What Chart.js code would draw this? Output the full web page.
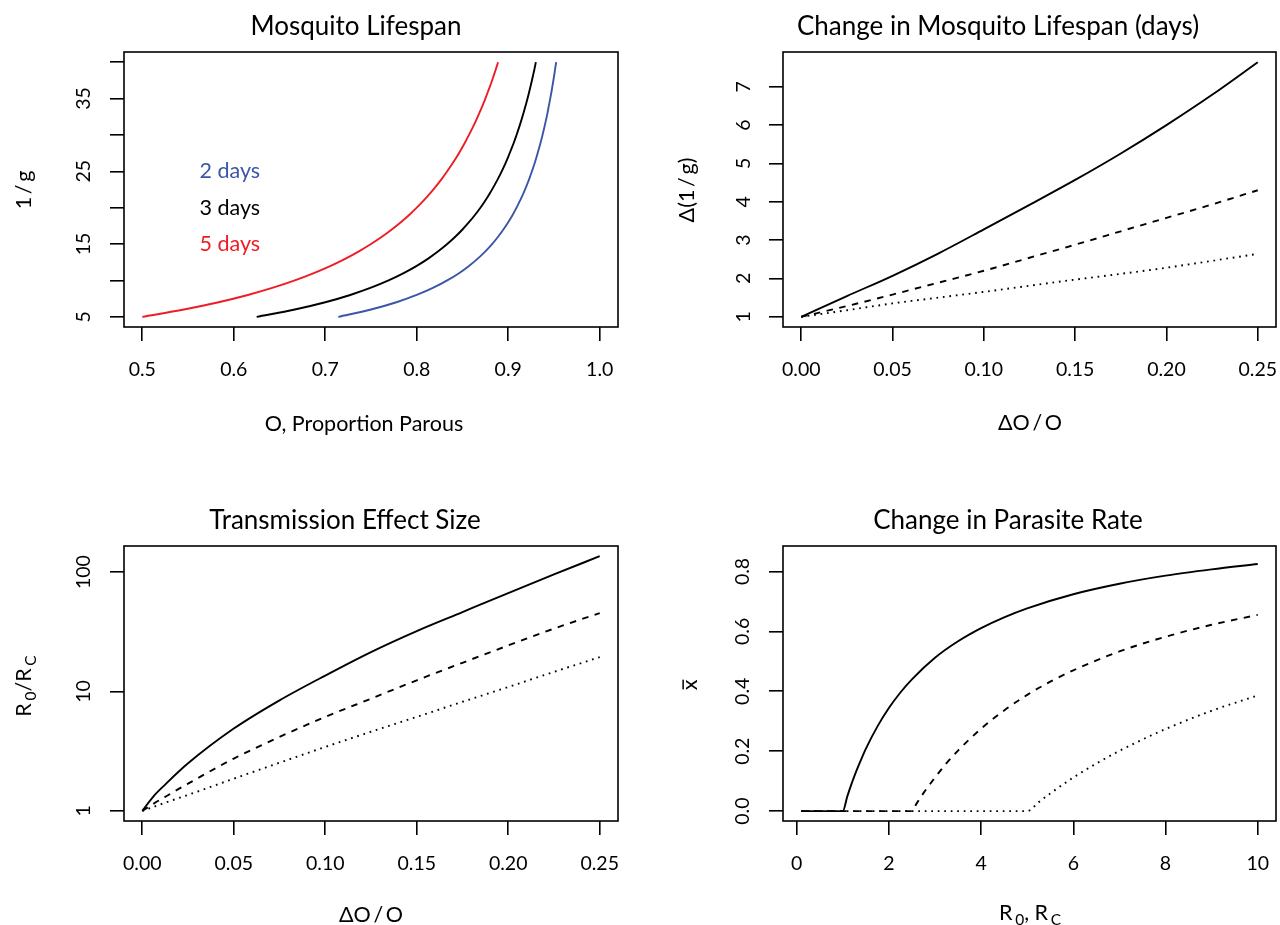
<!DOCTYPE html>
<html>
<head>
<meta charset="utf-8">
<title>Mosquito lifespan panels</title>
<script src="https://cdn.jsdelivr.net/npm/chart.js@4.4.1/dist/chart.umd.min.js"></script>
<style>
html, body { margin: 0; padding: 0; background: #ffffff; }
#wrap { position: relative; width: 1280px; height: 925px; overflow: hidden; }
#wrap canvas { position: absolute; left: 0; top: 0; }
</style>
</head>
<body>
<div id="wrap">
  <canvas id="lifespanChart" width="1280" height="925"></canvas>
  <canvas id="changeChart" width="1280" height="925"></canvas>
  <canvas id="effectChart" width="1280" height="925"></canvas>
  <canvas id="parasiteChart" width="1280" height="925"></canvas>
</div>
<script>
// Panel 1 - lifespan 1/g against proportion parous, one curve per cycle length
const lifespanY = [5, 6, 7, 8, 9, 10, 11, 12, 13, 14, 15, 16, 17, 18, 19, 20, 21, 22, 23, 24, 25, 26, 27, 28, 29, 30, 31, 32, 33, 34, 35, 36, 37, 38, 39, 40];
const parous2Days = [0.7143, 0.7500, 0.7778, 0.8000, 0.8182, 0.8333, 0.8462, 0.8571, 0.8667, 0.8750, 0.8824, 0.8889, 0.8947, 0.9000, 0.9048, 0.9091, 0.9130, 0.9167, 0.9200, 0.9231, 0.9259, 0.9286, 0.9310, 0.9333, 0.9355, 0.9375, 0.9394, 0.9412, 0.9429, 0.9444, 0.9459, 0.9474, 0.9487, 0.9500, 0.9512, 0.9524];
const parous3Days = [0.6250, 0.6667, 0.7000, 0.7273, 0.7500, 0.7692, 0.7857, 0.8000, 0.8125, 0.8235, 0.8333, 0.8421, 0.8500, 0.8571, 0.8636, 0.8696, 0.8750, 0.8800, 0.8846, 0.8889, 0.8929, 0.8966, 0.9000, 0.9032, 0.9063, 0.9091, 0.9118, 0.9143, 0.9167, 0.9189, 0.9211, 0.9231, 0.9250, 0.9268, 0.9286, 0.9302];
const parous5Days = [0.5000, 0.5455, 0.5833, 0.6154, 0.6429, 0.6667, 0.6875, 0.7059, 0.7222, 0.7368, 0.7500, 0.7619, 0.7727, 0.7826, 0.7917, 0.8000, 0.8077, 0.8148, 0.8214, 0.8276, 0.8333, 0.8387, 0.8438, 0.8485, 0.8529, 0.8571, 0.8611, 0.8649, 0.8684, 0.8718, 0.8750, 0.8780, 0.8810, 0.8837, 0.8864, 0.8889];
const dayLabels = ['2 days', '3 days', '5 days'];
const dayLabelY = [25, 20, 15];
const dayLabelX = 0.6;

// Panel 2 - change in lifespan
const deltaO = [0, 0.025, 0.05, 0.075, 0.10, 0.125, 0.15, 0.175, 0.20, 0.225, 0.25];
const changeSolid = [1, 1.54, 2.07, 2.65, 3.28, 3.92, 4.57, 5.26, 6.00, 6.79, 7.64];
const changeDashed = [1, 1.28, 1.58, 1.89, 2.20, 2.54, 2.88, 3.23, 3.58, 3.93, 4.30];
const changeDotted = [1, 1.17, 1.35, 1.50, 1.65, 1.81, 1.97, 2.12, 2.28, 2.46, 2.64];

// Panel 3 - transmission effect size (log axis)
const effectDeltaO = [0, 0.00625, 0.0125, 0.025, 0.05, 0.075, 0.10, 0.125, 0.15, 0.175, 0.20, 0.225, 0.25];
const effectSolid = [1, 1.33, 1.66, 2.50, 4.89, 8.43, 13.6, 21.4, 32.1, 46.3, 66.7, 95.6, 136];
const effectDashed = [1, 1.15, 1.31, 1.69, 2.74, 4.16, 6.12, 8.71, 12.4, 17.4, 24.3, 33.6, 45.4];
const effectDotted = [1, 1.08, 1.17, 1.36, 1.86, 2.53, 3.43, 4.60, 6.12, 8.20, 10.9, 14.6, 19.4];

// Panel 4 - parasite rate against R0 / Rc
const solidR = [0.1, 1, 1.1, 1.2, 1.3, 1.4, 1.5, 1.75, 2, 2.25, 2.5, 3, 3.5, 4, 4.5, 5, 6, 7, 8, 9, 10];
const solidRate = [0, 0, 0.050, 0.095, 0.136, 0.173, 0.208, 0.282, 0.344, 0.396, 0.440, 0.512, 0.567, 0.611, 0.647, 0.677, 0.724, 0.759, 0.786, 0.807, 0.825];
const dashedR = [0.1, 2.5, 2.6, 2.75, 3, 3.25, 3.5, 4, 4.5, 5, 5.5, 6, 7, 8, 9, 10];
const dashedRate = [0, 0, 0.025, 0.060, 0.112, 0.160, 0.202, 0.275, 0.336, 0.388, 0.432, 0.470, 0.533, 0.582, 0.622, 0.655];
const dottedR = [0.1, 5, 5.25, 5.5, 6, 6.5, 7, 7.5, 8, 9, 10];
const dottedRate = [0, 0, 0.030, 0.059, 0.112, 0.159, 0.201, 0.239, 0.274, 0.335, 0.386];

// tick values and labels
const parousTicks = [0.5, 0.6, 0.7, 0.8, 0.9, 1.0];
const parousTickLabels = ['0.5', '0.6', '0.7', '0.8', '0.9', '1.0'];
const lifespanTicks = [5, 10, 15, 20, 25, 30, 35, 40];
const lifespanTickLabels = ['5', '', '15', '', '25', '', '35', ''];
const deltaTicks = [0, 0.05, 0.10, 0.15, 0.20, 0.25];
const deltaTickLabels = ['0.00', '0.05', '0.10', '0.15', '0.20', '0.25'];
const changeTicks = [1, 2, 3, 4, 5, 6, 7];
const changeTickLabels = ['1', '2', '3', '4', '5', '6', '7'];
const effectTicks = [1, 10, 100];
const effectTickLabels = ['1', '10', '100'];
const rTicks = [0, 2, 4, 6, 8, 10];
const rTickLabels = ['0', '2', '4', '6', '8', '10'];
const rateTicks = [0, 0.2, 0.4, 0.6, 0.8];
const rateTickLabels = ['0.0', '0.2', '0.4', '0.6', '0.8'];

const FONT = 'Lato, "Open Sans", sans-serif';
const tickFont = { family: FONT, size: 19.5 };
const SOLID = [];
const DASHED = [6.5, 6.5];
const DOTTED = [1.7, 4.8];

function series(xs, ys, color, dash) {
    return {
        data: xs.map((x, i) => ({ x: x, y: ys[i] })),
        showLine: true,
        borderColor: color,
        borderWidth: 1.9,
        borderDash: dash,
        pointRadius: 0,
        cubicInterpolationMode: 'monotone',
        fill: false
    };
}

function gridOpts() {
    return {
        drawOnChartArea: false,
        drawTicks: true,
        tickLength: 14,
        color: '#000000',
        tickColor: '#000000',
        lineWidth: 1.6
    };
}

function axisX(min, max, ticks, labels) {
    return {
        type: 'linear',
        position: 'bottom',
        min: min,
        max: max,
        afterBuildTicks: s => { s.ticks = ticks.map(v => ({ value: v })); },
        afterFit: s => { s.height = 60; s.paddingLeft = 0; s.paddingRight = 0; },
        grid: gridOpts(),
        border: { display: false },
        ticks: {
            autoSkip: false, maxRotation: 0, minRotation: 0, padding: 17,
            color: '#000000', font: tickFont,
            callback: (v, i) => labels[i]
        }
    };
}

function axisY(type, min, max, ticks, labels, pad) {
    return {
        type: type,
        position: 'left',
        min: min,
        max: max,
        afterBuildTicks: s => { s.ticks = ticks.map(v => ({ value: v })); },
        afterFit: s => { s.width = 60; s.paddingTop = 0; s.paddingBottom = 0; },
        grid: gridOpts(),
        border: { display: false },
        ticks: {
            autoSkip: false, minRotation: 90, maxRotation: 90, crossAlign: 'center', padding: pad,
            color: '#000000', font: tickFont,
            callback: (v, i) => labels[i]
        }
    };
}

// text made of pieces, some of them subscripts or with an overline
function drawParts(ctx, parts, x, y, rot) {
    const main = 21.5, small = 15.5;
    ctx.save();
    ctx.translate(x, y);
    ctx.rotate(rot);
    ctx.textAlign = 'left';
    ctx.textBaseline = 'alphabetic';
    let total = 0;
    parts.forEach(p => {
        ctx.font = (p.sub ? small : main) + 'px ' + FONT;
        total += ctx.measureText(p.t).width;
    });
    let cx = -total / 2;
    parts.forEach(p => {
        ctx.font = (p.sub ? small : main) + 'px ' + FONT;
        const w = ctx.measureText(p.t).width;
        ctx.fillText(p.t, cx, p.sub ? 5 : 0);
        if (p.bar) {
            ctx.fillRect(cx + 1, -main * 0.68, w - 1, 1.5);
        }
        cx += w;
    });
    ctx.restore();
}

function frame(cfg) {
    return {
        id: 'rFrame',
        afterDraw(chart) {
            const ctx = chart.ctx;
            const a = chart.chartArea;
            ctx.save();
            ctx.strokeStyle = '#000000';
            ctx.lineWidth = 1.6;
            ctx.strokeRect(a.left, a.top, a.right - a.left, a.bottom - a.top);
            ctx.fillStyle = '#000000';
            ctx.textAlign = 'center';
            ctx.textBaseline = 'alphabetic';
            ctx.font = '26px ' + FONT;
            ctx.fillText(cfg.title, cfg.titleX, cfg.titleY);
            drawParts(ctx, cfg.xlab, cfg.xlabX, cfg.xlabY, 0);
            drawParts(ctx, cfg.ylab, cfg.ylabX, cfg.ylabY, -Math.PI / 2);
            if (cfg.extra) cfg.extra(chart, ctx);
            ctx.restore();
        }
    };
}

function baseOptions(pad, scales) {
    return {
        responsive: false,
        animation: false,
        events: [],
        layout: { padding: pad },
        plugins: { legend: { display: false }, tooltip: { enabled: false } },
        scales: scales
    };
}

const BLUE = '#3b56a6';
const RED = '#ee1c25';
const BLACK = '#000000';

// Mosquito Lifespan
new Chart(document.getElementById('lifespanChart'), {
    type: 'scatter',
    data: {
        datasets: [
            series(parous2Days, lifespanY, BLUE, SOLID),
            series(parous3Days, lifespanY, BLACK, SOLID),
            series(parous5Days, lifespanY, RED, SOLID)
        ]
    },
    options: baseOptions({ left: 64, right: 662, top: 52, bottom: 538 }, {
        x: axisX(0.48, 1.02, parousTicks, parousTickLabels),
        y: axisY('linear', 3.6, 41.4, lifespanTicks, lifespanTickLabels, 15)
    }),
    plugins: [frame({
        title: 'Mosquito Lifespan', titleX: 356, titleY: 35,
        xlab: [{ t: 'O, Proportion Parous' }], xlabX: 364, xlabY: 431,
        ylab: [{ t: '1\u2009/\u2009g' }], ylabX: 31, ylabY: 190,
        extra: (chart, ctx) => {
            const colors = [BLUE, BLACK, RED];
            ctx.font = '21.5px ' + FONT;
            ctx.textAlign = 'center';
            ctx.textBaseline = 'middle';
            dayLabels.forEach((t, i) => {
                ctx.fillStyle = colors[i];
                ctx.fillText(t, chart.scales.x.getPixelForValue(dayLabelX) - 4, chart.scales.y.getPixelForValue(dayLabelY[i]));
            });
        }
    })]
});

// Change in Mosquito Lifespan (days)
new Chart(document.getElementById('changeChart'), {
    type: 'scatter',
    data: {
        datasets: [
            series(deltaO, changeSolid, BLACK, SOLID),
            series(deltaO, changeDashed, BLACK, DASHED),
            series(deltaO, changeDotted, BLACK, DOTTED)
        ]
    },
    options: baseOptions({ left: 723, right: 4, top: 52, bottom: 538 }, {
        x: axisX(-0.01, 0.26, deltaTicks, deltaTickLabels),
        y: axisY('linear', 0.734, 7.906, changeTicks, changeTickLabels, 20)
    }),
    plugins: [frame({
        title: 'Change in Mosquito Lifespan (days)', titleX: 998, titleY: 35,
        xlab: [{ t: '\u0394O\u2009/\u2009O' }], xlabX: 1030, xlabY: 430,
        ylab: [{ t: '\u0394(1\u2009/\u2009g)' }], ylabX: 694, ylabY: 190
    })]
});

// Transmission Effect Size
new Chart(document.getElementById('effectChart'), {
    type: 'scatter',
    data: {
        datasets: [
            series(effectDeltaO, effectSolid, BLACK, SOLID),
            series(effectDeltaO, effectDashed, BLACK, DASHED),
            series(effectDeltaO, effectDotted, BLACK, DOTTED)
        ]
    },
    options: baseOptions({ left: 64, right: 662, top: 546, bottom: 44 }, {
        x: axisX(-0.01, 0.26, deltaTicks, deltaTickLabels),
        y: axisY('logarithmic', 0.822, 165.5, effectTicks, effectTickLabels, 9)
    }),
    plugins: [frame({
        title: 'Transmission Effect Size', titleX: 345, titleY: 529,
        xlab: [{ t: '\u0394O\u2009/\u2009O' }], xlabX: 371, xlabY: 922,
        ylab: [{ t: 'R\u2009' }, { t: '0', sub: true }, { t: '/R\u2009' }, { t: 'C', sub: true }], ylabX: 31, ylabY: 686
    })]
});

// Change in Parasite Rate
new Chart(document.getElementById('parasiteChart'), {
    type: 'scatter',
    data: {
        datasets: [
            series(solidR, solidRate, BLACK, SOLID),
            series(dashedR, dashedRate, BLACK, DASHED),
            series(dottedR, dottedRate, BLACK, DOTTED)
        ]
    },
    options: baseOptions({ left: 723, right: 4, top: 546, bottom: 44 }, {
        x: axisX(-0.296, 10.396, rTicks, rTickLabels),
        y: axisY('linear', -0.033, 0.885, rateTicks, rateTickLabels, 13)
    }),
    plugins: [frame({
        title: 'Change in Parasite Rate', titleX: 1008, titleY: 529,
        xlab: [{ t: 'R\u2009' }, { t: '0', sub: true }, { t: ', R\u2009' }, { t: 'C', sub: true }], xlabX: 1030, xlabY: 920,
        ylab: [{ t: 'x', bar: true }], ylabX: 697, ylabY: 685
    })]
});
</script>
</body>
</html>
